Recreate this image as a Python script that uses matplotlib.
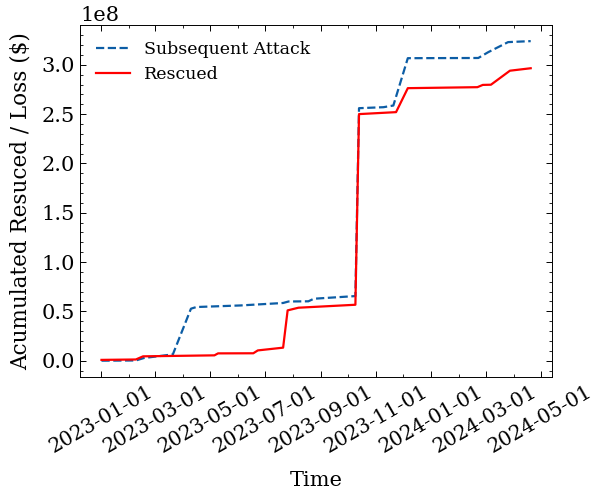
import matplotlib
matplotlib.use("Agg")
import matplotlib.pyplot as plt
import matplotlib.dates as mdates
import pandas as pd

# cumulative values (USD)
attack_dates = ["2023-01-01", "2023-02-08", "2023-02-17", "2023-03-21", "2023-04-10",
                "2023-04-16", "2023-06-04", "2023-07-21", "2023-07-27", "2023-08-18",
                "2023-08-24", "2023-10-09", "2023-10-13", "2023-11-09", "2023-11-20",
                "2023-12-06", "2024-02-22", "2024-03-04", "2024-03-26", "2024-04-20"]
attack_values = [0.0e6, 0.2e6, 2.7e6, 6.4e6, 52.7e6,
                 54.4e6, 56.0e6, 58.5e6, 60.0e6, 60.2e6,
                 62.8e6, 65.5e6, 256.0e6, 257.0e6, 258.7e6,
                 306.7e6, 306.9e6, 312.8e6, 323.0e6, 324.0e6]

rescued_dates = ["2023-01-01", "2023-02-08", "2023-02-16", "2023-05-06", "2023-05-10",
                 "2023-06-18", "2023-06-23", "2023-07-21", "2023-07-26", "2023-08-07",
                 "2023-10-09", "2023-10-13", "2023-11-23", "2023-12-06", "2024-02-21",
                 "2024-02-27", "2024-03-07", "2024-03-28", "2024-04-20"]
rescued_values = [0.8e6, 1.2e6, 4.4e6, 5.4e6, 7.4e6,
                  7.5e6, 10.4e6, 13.2e6, 51.0e6, 53.7e6,
                  56.7e6, 250.0e6, 252.0e6, 276.3e6, 277.3e6,
                  279.6e6, 279.8e6, 294.0e6, 296.5e6]

plt.rcParams.update({
    "font.family": "DejaVu Serif",
    "font.size": 15,
    "xtick.labelsize": 14.5,
    "xtick.direction": "in",
    "ytick.direction": "in",
    "xtick.top": True,
    "ytick.right": True,
    "xtick.minor.visible": True,
    "ytick.minor.visible": True,
    "xtick.major.size": 4.5,
    "ytick.major.size": 4.5,
    "xtick.minor.size": 2.2,
    "ytick.minor.size": 2.2,
    "xtick.major.width": 0.7,
    "ytick.major.width": 0.7,
    "xtick.minor.width": 0.6,
    "ytick.minor.width": 0.6,
    "axes.linewidth": 0.7,
})

fig, ax = plt.subplots(figsize=(5.95, 4.93), dpi=100)
fig.subplots_adjust(left=0.1345, right=0.928, top=0.949, bottom=0.236)

ax.plot(pd.to_datetime(attack_dates), attack_values, linestyle="--", color="#0C5DA5",
        linewidth=1.6, label="Subsequent Attack")
ax.plot(pd.to_datetime(rescued_dates), rescued_values, color="red",
        linewidth=1.6, label="Rescued")

ax.xaxis.set_major_locator(mdates.MonthLocator(bymonth=[1, 3, 5, 7, 9, 11]))
ax.xaxis.set_minor_locator(mdates.MonthLocator())
ax.xaxis.set_major_formatter(mdates.DateFormatter("%Y-%m-%d"))
plt.setp(ax.get_xticklabels(), rotation=30)

ax.set_xlabel("Time", labelpad=11)
ax.set_ylabel("Acumulated Resuced / Loss (\\$)", fontsize=15.5, labelpad=7)
ax.legend(loc="upper left", frameon=False, fontsize=12.5)

plt.savefig("out.png", dpi=100)
